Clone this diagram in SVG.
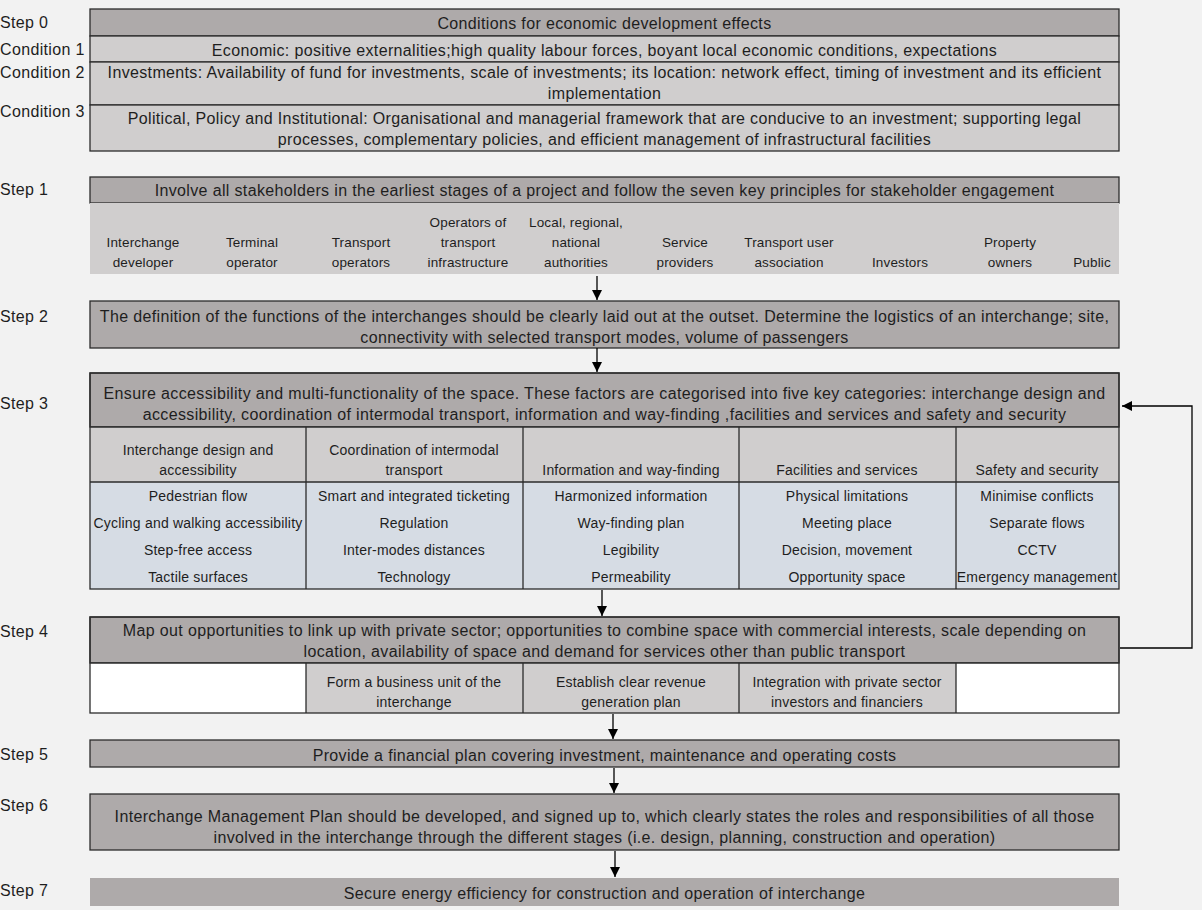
<svg xmlns="http://www.w3.org/2000/svg" width="1202" height="910" viewBox="0 0 1202 910">
<defs>
<marker id="ah" viewBox="0 0 10 10" refX="10" refY="5" markerWidth="10" markerHeight="10" markerUnits="userSpaceOnUse" orient="auto">
<path d="M0,0 L10,5 L0,10 z" fill="#000"/>
</marker>
<style>
text{font-family:"Liberation Sans",Arial,sans-serif;fill:#1e1e1e;}
.t{font-size:16px;letter-spacing:0.35px;text-anchor:middle;}
.s{font-size:14px;letter-spacing:0.2px;text-anchor:middle;}
.k{font-size:13.5px;letter-spacing:0.15px;text-anchor:middle;}
.lab{font-size:16px;letter-spacing:0.35px;}
.dk{fill:#aeaaaa;stroke:#2b2b2b;stroke-width:1.3;}
.lt{fill:#d0cece;stroke:#2b2b2b;stroke-width:1.3;}
.bl{fill:#d6dce4;}
.wh{fill:#ffffff;}
.ln{stroke:#2b2b2b;stroke-width:1.3;fill:none;}
.c{stroke:#000;stroke-width:1.3;fill:none;}
</style>
</defs>
<rect x="0" y="0" width="1202" height="910" fill="#f2f2f2"/>

<g id="labels">
<text class="lab" x="0" y="28">Step 0</text>
<text class="lab" x="0" y="55">Condition 1</text>
<text class="lab" x="0" y="78">Condition 2</text>
<text class="lab" x="0" y="117">Condition 3</text>
<text class="lab" x="0" y="195">Step 1</text>
<text class="lab" x="0" y="322">Step 2</text>
<text class="lab" x="0" y="409">Step 3</text>
<text class="lab" x="0" y="637">Step 4</text>
<text class="lab" x="0" y="760">Step 5</text>
<text class="lab" x="0" y="811">Step 6</text>
<text class="lab" x="0" y="896">Step 7</text>
</g>

<g id="step0">
<rect class="dk" x="90" y="9" width="1029" height="27"/>
<text class="t" x="604.5" y="28.5">Conditions for economic development effects</text>
<rect class="lt" x="90" y="36" width="1029" height="26"/>
<text class="t" x="604.5" y="55.5">Economic: positive externalities;high quality labour forces, boyant local economic conditions, expectations</text>
<rect class="lt" x="90" y="62" width="1029" height="43"/>
<text class="t" x="604.5" y="77.5">Investments: Availability of fund for investments, scale of investments; its location: network effect, timing of investment and its efficient</text>
<text class="t" x="604.5" y="98.5">implementation</text>
<rect class="lt" x="90" y="105" width="1029" height="46"/>
<text class="t" x="604.5" y="123.5">Political, Policy and Institutional: Organisational and managerial framework that are conducive to an investment; supporting legal</text>
<text class="t" x="604.5" y="144.5">processes, complementary policies, and efficient management of infrastructural facilities</text>
</g>

<g id="step1">
<rect class="dk" x="90" y="177" width="1029" height="26"/>
<text class="t" x="604.5" y="195.5">Involve all stakeholders in the earliest stages of a project and follow the seven key principles for stakeholder engagement</text>
<rect x="90" y="203" width="1029" height="71" fill="#d0cece"/>
<text class="k" x="143" y="247">Interchange</text><text class="k" x="143" y="267">developer</text>
<text class="k" x="252" y="247">Terminal</text><text class="k" x="252" y="267">operator</text>
<text class="k" x="361" y="247">Transport</text><text class="k" x="361" y="267">operators</text>
<text class="k" x="468" y="227">Operators of</text><text class="k" x="468" y="247">transport</text><text class="k" x="468" y="267">infrastructure</text>
<text class="k" x="576" y="227">Local, regional,</text><text class="k" x="576" y="247">national</text><text class="k" x="576" y="267">authorities</text>
<text class="k" x="685" y="247">Service</text><text class="k" x="685" y="267">providers</text>
<text class="k" x="789" y="247">Transport user</text><text class="k" x="789" y="267">association</text>
<text class="k" x="900" y="267">Investors</text>
<text class="k" x="1010" y="247">Property</text><text class="k" x="1010" y="267">owners</text>
<text class="k" x="1092" y="267">Public</text>
</g>

<g id="step2">
<rect class="dk" x="90" y="301" width="1029" height="47"/>
<text class="t" x="604.5" y="321.5">The definition of the functions of the interchanges should be clearly laid out at the outset. Determine the logistics of an interchange; site,</text>
<text class="t" x="604.5" y="342.5">connectivity with selected transport modes, volume of passengers</text>
</g>

<g id="step3">
<rect class="dk" x="90" y="373" width="1029" height="54"/>
<text class="t" x="604.5" y="398.5">Ensure accessibility and multi-functionality of the space. These factors are categorised into five key categories: interchange design and</text>
<text class="t" x="604.5" y="419.5">accessibility, coordination of intermodal transport, information and way-finding ,facilities and services and safety and security</text>
<rect x="90" y="427" width="1029" height="55" fill="#d0cece"/>
<rect class="bl" x="90" y="482" width="1029" height="107"/>
<rect class="ln" x="90" y="373" width="1029" height="216"/>
<line class="ln" x1="90" y1="427" x2="1119" y2="427"/>
<line class="ln" x1="90" y1="482" x2="1119" y2="482"/>
<line class="ln" x1="306" y1="427" x2="306" y2="589"/>
<line class="ln" x1="523" y1="427" x2="523" y2="589"/>
<line class="ln" x1="739" y1="427" x2="739" y2="589"/>
<line class="ln" x1="956" y1="427" x2="956" y2="589"/>
<text class="s" x="198" y="455">Interchange design and</text><text class="s" x="198" y="475">accessibility</text>
<text class="s" x="414" y="455">Coordination of intermodal</text><text class="s" x="414" y="475">transport</text>
<text class="s" x="631" y="475">Information and way-finding</text>
<text class="s" x="847" y="475">Facilities and services</text>
<text class="s" x="1037" y="475">Safety and security</text>
<text class="s" x="198" y="501">Pedestrian flow</text>
<text class="s" x="198" y="528">Cycling and walking accessibility</text>
<text class="s" x="198" y="555">Step-free access</text>
<text class="s" x="198" y="582">Tactile surfaces</text>
<text class="s" x="414" y="501">Smart and integrated ticketing</text>
<text class="s" x="414" y="528">Regulation</text>
<text class="s" x="414" y="555">Inter-modes distances</text>
<text class="s" x="414" y="582">Technology</text>
<text class="s" x="631" y="501">Harmonized information</text>
<text class="s" x="631" y="528">Way-finding plan</text>
<text class="s" x="631" y="555">Legibility</text>
<text class="s" x="631" y="582">Permeability</text>
<text class="s" x="847" y="501">Physical limitations</text>
<text class="s" x="847" y="528">Meeting place</text>
<text class="s" x="847" y="555">Decision, movement</text>
<text class="s" x="847" y="582">Opportunity space</text>
<text class="s" x="1037" y="501">Minimise conflicts</text>
<text class="s" x="1037" y="528">Separate flows</text>
<text class="s" x="1037" y="555">CCTV</text>
<text class="s" x="1037" y="582">Emergency management</text>
</g>

<g id="step4">
<rect class="dk" x="90" y="617" width="1029" height="46"/>
<text class="t" x="604.5" y="635.5">Map out opportunities to link up with private sector; opportunities to combine space with commercial interests, scale depending on</text>
<text class="t" x="604.5" y="656.5">location, availability of space and demand for services other than public transport</text>
<rect class="wh" x="90" y="663" width="216" height="50"/>
<rect x="306" y="663" width="650" height="50" fill="#d0cece"/>
<rect class="wh" x="956" y="663" width="163" height="50"/>
<rect class="ln" x="90" y="617" width="1029" height="96"/>
<line class="ln" x1="90" y1="663" x2="1119" y2="663"/>
<line class="ln" x1="306" y1="663" x2="306" y2="713"/>
<line class="ln" x1="523" y1="663" x2="523" y2="713"/>
<line class="ln" x1="739" y1="663" x2="739" y2="713"/>
<line class="ln" x1="956" y1="663" x2="956" y2="713"/>
<text class="s" x="414" y="687">Form a business unit of the</text><text class="s" x="414" y="707">interchange</text>
<text class="s" x="631" y="687">Establish clear revenue</text><text class="s" x="631" y="707">generation plan</text>
<text class="s" x="847" y="687">Integration with private sector</text><text class="s" x="847" y="707">investors and financiers</text>
</g>

<g id="step5">
<rect class="dk" x="90" y="740" width="1029" height="27"/>
<text class="t" x="604.5" y="760.5">Provide a financial plan covering investment, maintenance and operating costs</text>
</g>

<g id="step6">
<rect class="dk" x="90" y="794" width="1029" height="56"/>
<text class="t" x="604.5" y="821.5">Interchange Management Plan should be developed, and signed up to, which clearly states the roles and responsibilities of all those</text>
<text class="t" x="604.5" y="842.5">involved in the interchange through the different stages (i.e. design, planning, construction and operation)</text>
</g>

<g id="step7">
<rect x="90" y="878" width="1029" height="28" fill="#aeaaaa"/>
<text class="t" x="604.5" y="898.5">Secure energy efficiency for construction and operation of interchange</text>
</g>

<g id="connectors">
<line class="c" x1="597" y1="276" x2="597" y2="300" marker-end="url(#ah)"/>
<line class="c" x1="597" y1="348" x2="597" y2="372" marker-end="url(#ah)"/>
<line class="c" x1="602" y1="590" x2="602" y2="616" marker-end="url(#ah)"/>
<line class="c" x1="613" y1="714" x2="613" y2="739" marker-end="url(#ah)"/>
<line class="c" x1="614" y1="768" x2="614" y2="793" marker-end="url(#ah)"/>
<line class="c" x1="615" y1="851" x2="615" y2="877" marker-end="url(#ah)"/>
<polyline class="c" points="1120,648 1192,648 1192,406 1122,406" marker-end="url(#ah)"/>
</g>
</svg>
